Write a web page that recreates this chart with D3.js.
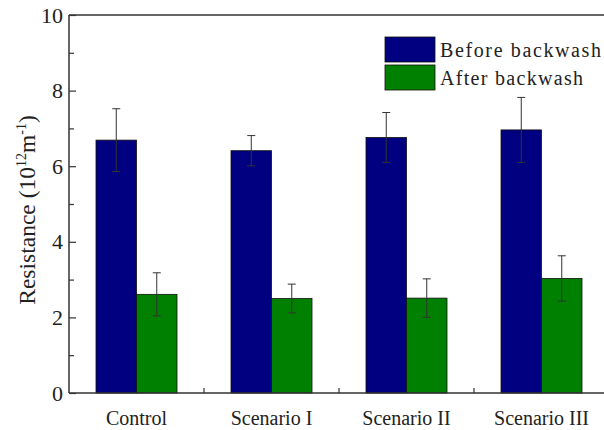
<!DOCTYPE html>
<html>
<head>
<meta charset="utf-8">
<script src="https://cdn.jsdelivr.net/npm/d3@7"></script>
<style>
  html, body { margin: 0; padding: 0; background: #fff; }
  svg { display: block; font-family: "Liberation Serif", "Times New Roman", serif; }
</style>
</head>
<body>
<svg id="chart" width="604" height="430"></svg>
<script>
// Filter resistance before / after backwash, with error bars
const categories = ["Control", "Scenario I", "Scenario II", "Scenario III"];
const seriesNames = ["Before backwash", "After backwash"];
const beforeValues = [6.69, 6.41, 6.76, 6.96];
const beforeErrors = [0.83, 0.40, 0.66, 0.86];
const afterValues = [2.61, 2.50, 2.51, 3.03];
const afterErrors = [0.57, 0.38, 0.51, 0.60];
const yTicks = [0, 2, 4, 6, 8, 10];
const yMinorTicks = [1, 3, 5, 7, 9];

const colors = ["#000080", "#008000"];

const svg = d3.select("#chart");
const margin = { left: 69, right: 609, top: 15, bottom: 393 };

const x = d3.scaleBand()
  .domain(categories)
  .range([margin.left, margin.right])
  .paddingInner(0.4)
  .paddingOuter(0.2);

const xSub = d3.scaleBand()
  .domain(seriesNames)
  .range([0, x.bandwidth()]);

const y = d3.scaleLinear().domain([0, 10]).range([margin.bottom, margin.top]);

const rows = categories.map((c, i) => ({
  category: c,
  values: [
    { series: seriesNames[0], value: beforeValues[i], err: beforeErrors[i] },
    { series: seriesNames[1], value: afterValues[i], err: afterErrors[i] }
  ]
}));

// bars
const groups = svg.append("g").selectAll("g")
  .data(rows)
  .join("g")
  .attr("transform", d => `translate(${x(d.category)},0)`);

groups.selectAll("rect")
  .data(d => d.values)
  .join("rect")
  .attr("x", d => xSub(d.series))
  .attr("y", d => y(d.value))
  .attr("width", xSub.bandwidth())
  .attr("height", d => y(0) - y(d.value))
  .attr("fill", (d, i) => colors[i])
  .attr("stroke", "#111")
  .attr("stroke-width", 0.8);

// error bars
const capHalf = 4;
const eb = groups.selectAll("g.err")
  .data(d => d.values)
  .join("g")
  .attr("class", "err")
  .attr("stroke", "#333")
  .attr("stroke-width", 1);

eb.append("line")
  .attr("x1", d => xSub(d.series) + xSub.bandwidth() / 2)
  .attr("x2", d => xSub(d.series) + xSub.bandwidth() / 2)
  .attr("y1", d => y(d.value + d.err))
  .attr("y2", d => y(d.value - d.err));
eb.append("line")
  .attr("x1", d => xSub(d.series) + xSub.bandwidth() / 2 - capHalf)
  .attr("x2", d => xSub(d.series) + xSub.bandwidth() / 2 + capHalf)
  .attr("y1", d => y(d.value + d.err))
  .attr("y2", d => y(d.value + d.err));
eb.append("line")
  .attr("x1", d => xSub(d.series) + xSub.bandwidth() / 2 - capHalf)
  .attr("x2", d => xSub(d.series) + xSub.bandwidth() / 2 + capHalf)
  .attr("y1", d => y(d.value - d.err))
  .attr("y2", d => y(d.value - d.err));

// frame: left, bottom, top
const axisColor = "#333";
svg.append("line")
  .attr("x1", margin.left).attr("x2", margin.left)
  .attr("y1", margin.top).attr("y2", margin.bottom)
  .attr("stroke", axisColor).attr("stroke-width", 1.5);
svg.append("line")
  .attr("x1", margin.left).attr("x2", margin.right)
  .attr("y1", margin.bottom).attr("y2", margin.bottom)
  .attr("stroke", axisColor).attr("stroke-width", 1.5);
svg.append("line")
  .attr("x1", margin.left).attr("x2", margin.right)
  .attr("y1", margin.top).attr("y2", margin.top)
  .attr("stroke", axisColor).attr("stroke-width", 1.5);

// y axis ticks (pointing inward) and labels
const yAxis = d3.axisRight(y)
  .tickValues(yTicks)
  .tickSize(7)
  .tickFormat("");
const yAxisG = svg.append("g")
  .attr("transform", `translate(${margin.left},0)`)
  .call(yAxis);
yAxisG.select(".domain").remove();
yAxisG.selectAll("line").attr("stroke", axisColor).attr("stroke-width", 1.2);

const yMinor = d3.axisRight(y).tickValues(yMinorTicks).tickSize(5).tickFormat("");
const yMinorG = svg.append("g")
  .attr("transform", `translate(${margin.left},0)`)
  .call(yMinor);
yMinorG.select(".domain").remove();
yMinorG.selectAll("line").attr("stroke", axisColor).attr("stroke-width", 1.2);

svg.append("g").selectAll("text")
  .data(yTicks)
  .join("text")
  .attr("x", 63)
  .attr("y", d => y(d) + 7.5)
  .attr("text-anchor", "end")
  .attr("font-size", 22)
  .attr("fill", "#222")
  .text(d => d);

// x axis: small inward ticks between groups, category labels
const boundaries = categories.slice(1).map(c => x(c) - x.step() * x.paddingInner() / 2);
svg.append("g").selectAll("line")
  .data(boundaries)
  .join("line")
  .attr("x1", d => d).attr("x2", d => d)
  .attr("y1", margin.bottom).attr("y2", margin.bottom - 5)
  .attr("stroke", axisColor).attr("stroke-width", 1.2);

svg.append("g").selectAll("text")
  .data(categories)
  .join("text")
  .attr("x", d => x(d) + x.bandwidth() / 2)
  .attr("y", 425)
  .attr("text-anchor", "middle")
  .attr("font-size", 20)
  .attr("fill", "#222")
  .text(d => d);

// y axis title with superscripts
const title = svg.append("text")
  .attr("transform", "translate(35,210) rotate(-90)")
  .attr("text-anchor", "middle")
  .attr("font-size", 23.5)
  .attr("fill", "#222");
title.append("tspan").text("Resistance (10");
title.append("tspan").attr("dy", -9).attr("font-size", 14).text("12");
title.append("tspan").attr("dy", 9).text("m");
title.append("tspan").attr("dy", -9).attr("font-size", 14).text("-1");
title.append("tspan").attr("dy", 9).text(")");

// legend
const legend = svg.append("g").selectAll("g")
  .data(seriesNames)
  .join("g")
  .attr("transform", (d, i) => `translate(385,${37 + i * 28})`);
legend.append("rect")
  .attr("width", 50).attr("height", 25)
  .attr("fill", (d, i) => colors[i])
  .attr("stroke", "#111").attr("stroke-width", 0.8);
legend.append("text")
  .attr("x", 55).attr("y", 20)
  .attr("font-size", 20)
  .attr("fill", "#222")
  .attr("textLength", (d, i) => i === 0 ? 161 : 143)
  .attr("lengthAdjust", "spacing")
  .text(d => d);
</script>
</body>
</html>
